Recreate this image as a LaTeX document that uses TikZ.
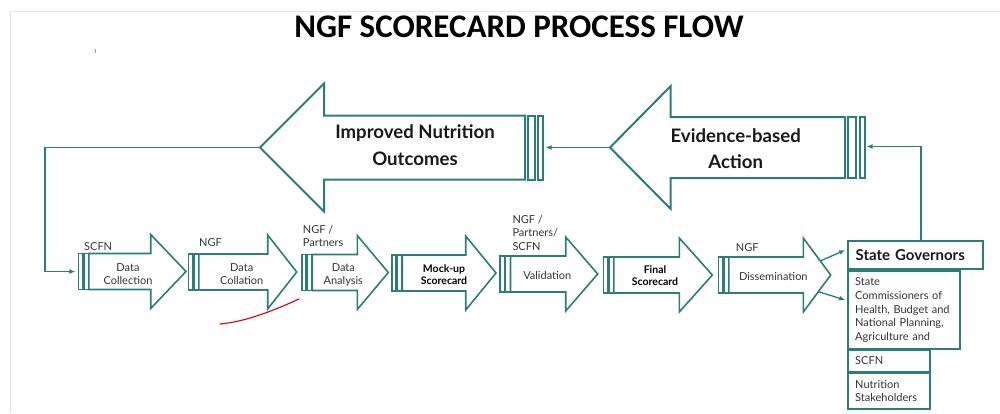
\documentclass[tikz,border=0pt]{standalone}
\usepackage{fontspec}
\setmainfont{Lato}
\newfontfamily\titlefont{Carlito}
\usetikzlibrary{arrows.meta,calc}
\definecolor{tealc}{RGB}{44,124,124}
\definecolor{txt}{RGB}{52,52,52}
\tikzset{
  flowshape/.style={draw=tealc, line width=1.6pt, fill=white, line join=miter},
  bigshape/.style={draw=tealc, line width=2pt, fill=white, line join=miter},
  conn/.style={draw=tealc, line width=1.3pt, -{Latex[length=6pt,width=5pt]}},
  lbl/.style={font=\fontsize{11}{13.3}\selectfont, text=txt, inner sep=0pt, align=center},
  blbl/.style={font=\bfseries\fontsize{10.5}{12.5}\selectfont, text=black, inner sep=0pt, align=center},
  toplbl/.style={font=\fontsize{11}{13.3}\selectfont, text=txt, inner sep=0pt, align=left, anchor=base west},
  biglbl/.style={font=\bfseries\fontsize{18.6}{26.5}\selectfont, text=black!90, inner sep=0pt, align=center, anchor=base},
  boxst/.style={draw=tealc, line width=1.8pt, fill=white, anchor=north west, align=left, text=txt, inner ysep=0pt},
}
\newcommand\stripedR[5]{%
  \draw[flowshape] (#2,#5-18) rectangle ++(4.5,36);
  \draw[flowshape] (#2+5.5,#5-18) rectangle ++(5,36);
  \draw[flowshape] (#2+10.5,#5-18) -- (#3,#5-18) -- (#3,#5-37) -- (#4,#5) -- (#3,#5+37) -- (#3,#5+18) -- (#2+10.5,#5+18) -- cycle;
  \coordinate (#1-in) at (#2-3,#5);
  \coordinate (#1-tip) at (#4,#5);
  \coordinate (#1-ht) at (#3,#5-37);
  \coordinate (#1-hb) at (#3,#5+37);
}
\begin{document}
\begin{tikzpicture}[x=1pt,y=-1pt]
\useasboundingbox (0,0) rectangle (1000,413);
% faint frame
\draw[gray!22, line width=0.8pt] (10,413) -- (10,11) -- (1000,11);
% title
\node[font=\titlefont\bfseries\fontsize{33}{36}\selectfont, anchor=base, inner sep=0pt] (title) at (519,37) {NGF SCORECARD PROCESS FLOW};

% big arrow 1
\draw[bigshape] (260,147.5) -- (324,83.5) -- (324,115.5) -- (525,115.5) -- (525,179.5) -- (324,179.5) -- (324,211.5) -- cycle;
\draw[bigshape] (527.7,115.5) rectangle (535,179.5);
\draw[bigshape] (538,115.5) rectangle (543.3,179.5);
\coordinate (b1-tip) at (260,147.5);
\coordinate (b1-in) at (545.5,147.5);
\node[biglbl] (bt1) at (415,165) {Improved Nutrition\\Outcomes};

% big arrow 2
\draw[bigshape] (610,147.5) -- (670.7,86) -- (670.7,117) -- (845,117) -- (845,178) -- (670.7,178) -- (670.7,209) -- cycle;
\draw[bigshape] (847.7,117) rectangle (856,178);
\draw[bigshape] (859.5,117) rectangle (864.5,178);
\coordinate (b2-tip) at (610,147.5);
\coordinate (b2-in) at (866.5,146.5);
\node[biglbl] (bt2) at (735.7,168.5) {Evidence-based\\Action};

% small striped arrows
\stripedR{a1}{78.3}{150.7}{186}{271.5}
\stripedR{a2}{188.3}{267.7}{296.7}{272}
\stripedR{a3}{301.7}{357.3}{388.3}{272.5}
\stripedR{a4}{391.7}{465.7}{496}{273}
\stripedR{a5}{500}{565.7}{597.7}{274}
\stripedR{a6}{603.3}{679.3}{712.3}{275}
\stripedR{a7}{718.3}{803.3}{830.7}{275}

\node[lbl, anchor=base] (t1) at (128,284.3) {Data\\Collection};
\node[lbl, anchor=base] (t2) at (241.7,284.3) {Data\\Collation};
\node[lbl, anchor=base] (t3) at (343.3,284.3) {Data\\Analysis};
\node[blbl, anchor=base] (t4) at (444,284.9) {Mock-up\\Scorecard};
\node[lbl, anchor=base] (t5) at (547.3,279.2) {Validation};
\node[blbl, anchor=base] (t6) at (655,285.9) {Final\\Scorecard};
\node[lbl, anchor=base] (t7) at (773.3,280.2) {Dissemination};

\node[toplbl] (u1) at (84,250.7) {SCFN};
\node[toplbl] (u2) at (199,246.7) {NGF};
\node[toplbl] (u3) at (302.7,246.7) {NGF /\\Partners};
\node[toplbl] (u5) at (512.3,250) {NGF /\\Partners/\\SCFN};
\node[toplbl] (u7) at (735.7,251.7) {NGF};

% stakeholder boxes
\node[boxst, minimum width=135pt, minimum height=28.3pt, text width=119pt, inner xsep=8pt, font=\bfseries\fontsize{15}{18}\selectfont, text=black!90] (sg) at (846.7,240) {State Governors};
\node[boxst, minimum width=112.6pt, minimum height=78.3pt, text width=97.4pt, inner xsep=7.6pt, font=\fontsize{11}{13.75}\selectfont] (com) at (846.7,270) {State\\Commissioners of\\Health, Budget and\\National Planning,\\Agriculture and};
\node[boxst, minimum width=82.6pt, minimum height=21.7pt, text width=67.4pt, inner xsep=7.6pt, font=\fontsize{11}{13.3}\selectfont] (scfn) at (846.7,349) {SCFN};
\node[boxst, minimum width=82.6pt, minimum height=35.4pt, text width=67.4pt, inner xsep=7.6pt, font=\fontsize{11}{13.3}\selectfont] (ns) at (846.7,372.3) {Nutrition\\Stakeholders};

% connectors
\coordinate (c1) at (45,147.5);
\draw[conn] (b1-tip) -- (c1) |- (a1-in);
\draw[conn] (b2-tip) -- (b1-in);
\draw[conn] ($(sg.north)+(6,0)$) |- (b2-in);
\draw[conn] ($(a7-ht)!0.62!(a7-tip)$) -- ($(sg.west)+(-1.5,-5)$);
\draw[conn] ($(a7-hb)!0.55!(a7-tip)$) -- ($(com.north west)+(-1.5,30)$);

% hand annotations
\draw[red!85!black, line width=1.1pt, line cap=round] (220,324) .. controls (245,322) and (275,310) .. (299,299);
\draw[red!55, line width=0.8pt] (95,49) -- (95,52.5);
\end{tikzpicture}
\end{document}
